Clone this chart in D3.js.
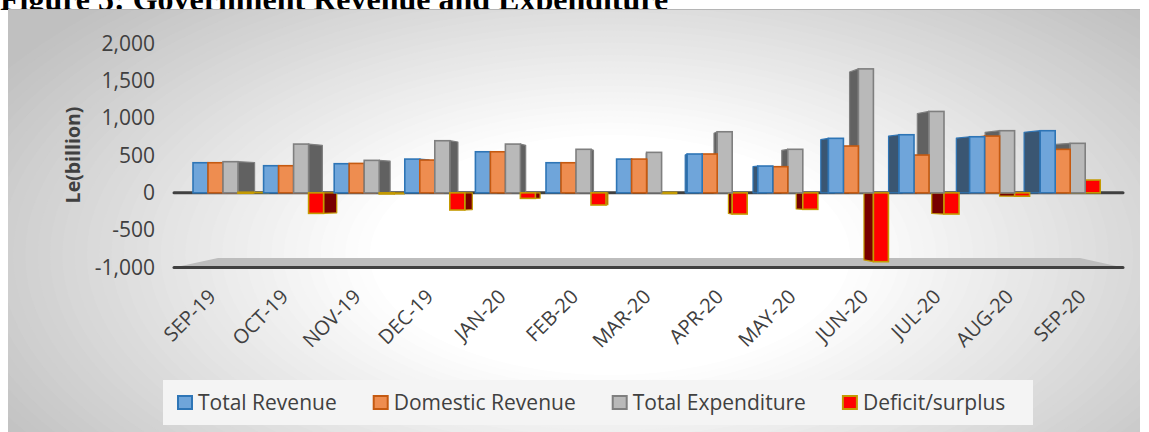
<!DOCTYPE html>
<html>
<head>
<meta charset="utf-8">
<script src="https://cdn.jsdelivr.net/npm/d3@7"></script>
<style>
  html, body { margin: 0; padding: 0; background: #fff; overflow: hidden; width: 1149px; height: 432px; }
  text { font-family: 'Open Sans', sans-serif; fill: #404040; }
</style>
</head>
<body>
<div id="chart"></div>
<script>
let months = ['SEP-19', 'OCT-19', 'NOV-19', 'DEC-19', 'JAN-20', 'FEB-20', 'MAR-20',
  'APR-20', 'MAY-20', 'JUN-20', 'JUL-20', 'AUG-20', 'SEP-20']
let seriesNames = ['Total Revenue', 'Domestic Revenue', 'Total Expenditure', 'Deficit/surplus']

let totalRevenue = [403, 363, 390, 452, 550, 403, 452, 520, 359, 730, 778, 751, 832]
let domesticRevenue = [403, 363, 394, 439, 550, 403, 452, 520, 350, 627, 506, 760, 582]
let totalExpenditure = [417, 653, 435, 698, 653, 583, 542, 818, 583, 1660, 1090, 832, 663]
let deficitSurplus = [8, -275, -15, -230, -74, -163, 5, -284, -221, -922, -284, -45, 171]

let yTicks = [-1000, -500, 0, 500, 1000, 1500, 2000]

let width = 1149
let height = 432

// front, edge, side colours for each series
let colors = {
  'Total Revenue': { fill: '#6fa5da', stroke: '#2e75b6', side: '#3a5672' },
  'Domestic Revenue': { fill: '#ee8d50', stroke: '#c55a11', side: '#a04f17' },
  'Total Expenditure': { fill: '#b9b9b9', stroke: '#7f7f7f', side: '#616161' },
  'Deficit/surplus': { fill: '#ff0000', stroke: '#c49a00', side: '#780000' }
}

let values = {
  'Total Revenue': totalRevenue,
  'Domestic Revenue': domesticRevenue,
  'Total Expenditure': totalExpenditure,
  'Deficit/surplus': deficitSurplus
}

let svg = d3.select('#chart')
  .append('svg')
  .attr('width', width)
  .attr('height', height)
  .style('display', 'block')

// title, mostly hidden behind the chart frame
svg.append('text')
  .attr('x', 0)
  .attr('y', 10)
  .style('font-family', "'Liberation Serif', 'Times New Roman', serif")
  .style('font-weight', 'bold')
  .style('font-size', '32px')
  .style('fill', '#000')
  .text('Figure 5: Government Revenue and Expenditure')

// frame background: white centre fading to grey, made of flat rings
svg.append('clipPath')
  .attr('id', 'frameClip')
  .append('rect')
  .attr('x', 8).attr('y', 9)
  .attr('width', 1132).attr('height', 423)

let bgG = svg.append('g').attr('clip-path', 'url(#frameClip)')
bgG.append('rect')
  .attr('x', 8).attr('y', 9)
  .attr('width', 1132).attr('height', 423)
  .attr('fill', '#c0c0c0')

let rings = d3.range(40)
let ringR = d3.scaleLinear().domain([0, 39]).range([720, 240])
let ringC = d3.scaleLinear().domain([0, 39]).range(['#c0c0c0', '#ffffff'])
bgG.selectAll('ellipse')
  .data(rings)
  .enter()
  .append('ellipse')
  .attr('cx', 610)
  .attr('cy', 255)
  .attr('rx', d => ringR(d))
  .attr('ry', d => ringR(d) * 0.5)
  .attr('fill', d => ringC(d))

svg.append('line')
  .attr('x1', 8).attr('x2', 1140)
  .attr('y1', 9.5).attr('y2', 9.5)
  .attr('stroke', '#b5b5b5')

let y = d3.scaleLinear().domain([-1000, 2000]).range([267.5, 43.5])

// bars sit a little further back than the labels, so they use a narrower band
let x = d3.scaleBand().domain(months).range([186, 186 + 13 * 70.6])
let x1 = d3.scaleBand().domain(seriesNames).range([7, 67])
let xLab = d3.scaleBand().domain(months).range([185.75, 1128.25])

// y axis
let yAxis = d3.axisLeft(y)
  .tickValues(yTicks)
  .tickSize(0)
  .tickPadding(8)
  .tickFormat(d => d3.format(',')(d).replace('−', '-'))

let yg = svg.append('g')
  .attr('transform', 'translate(163,0)')
  .call(yAxis)
yg.select('.domain').remove()
yg.selectAll('text')
  .style('font-size', '21px')
  .style('font-family', "'Open Sans', sans-serif")
  .attr('fill', '#404040')

svg.append('text')
  .attr('transform', 'translate(73,155) rotate(-90)')
  .attr('text-anchor', 'middle')
  .attr('dy', '0.35em')
  .style('font-weight', 'bold')
  .style('font-size', '19.5px')
  .text('Le(billion)')

// floor at -1000
let yFloor = y(-1000)
svg.append('polygon')
  .attr('points', [[174, yFloor], [1123, yFloor], [1080, yFloor - 9.5], [218, yFloor - 9.5]].join(' '))
  .attr('fill', '#bdbdbd')
svg.append('line')
  .attr('x1', 174).attr('x2', 1123)
  .attr('y1', yFloor).attr('y2', yFloor)
  .attr('stroke', '#404040')
  .attr('stroke-width', 3)
  .attr('stroke-linecap', 'round')

// zero line
svg.append('line')
  .attr('x1', 174).attr('x2', 1123)
  .attr('y1', y(0)).attr('y2', y(0))
  .attr('stroke', '#404040')
  .attr('stroke-width', 3)
  .attr('stroke-linecap', 'round')

// bars with a perspective side face
let vx = 645
let kx = 0.04
let ky = 0.025
let y0 = y(0)

let bars = []
months.forEach((m, i) => {
  seriesNames.forEach(s => {
    let v = values[s][i]
    let x0 = x(m) + x1(s)
    let w = x1.bandwidth()
    bars.push({ month: m, series: s, value: v, x0: x0, w: w, cx: x0 + w / 2 })
  })
})
bars.sort((a, b) => Math.abs(b.cx - vx) - Math.abs(a.cx - vx))

let barG = svg.append('g')
bars.forEach(d => {
  let c = colors[d.series]
  let yTop = y(Math.max(d.value, 0))
  let yBase = y(Math.min(d.value, 0))
  let dx = -kx * (d.cx - vx)
  let yTopB = yTop + ky * (y0 - yTop)
  let yBaseB = yBase + ky * (y0 - yBase)
  let ex = dx > 0 ? d.x0 + d.w : d.x0

  let g = barG.append('g')
  g.append('polygon')
    .attr('points', [[ex, yTop], [ex + dx, yTopB], [ex + dx, yBaseB], [ex, yBase]].join(' '))
    .attr('fill', c.side)
    .attr('stroke', c.stroke)
    .attr('stroke-width', 1.2)
    .attr('stroke-linejoin', 'round')
  g.append('rect')
    .attr('x', d.x0)
    .attr('y', yTop)
    .attr('width', d.w)
    .attr('height', Math.max(yBase - yTop, 1))
    .attr('fill', c.fill)
    .attr('stroke', c.stroke)
    .attr('stroke-width', 1.6)
})

// x labels
svg.append('g')
  .selectAll('text')
  .data(months)
  .enter()
  .append('text')
  .attr('transform', d => `translate(${xLab(d) + xLab.bandwidth() / 2 - 5},298) rotate(-45)`)
  .attr('text-anchor', 'end')
  .style('font-size', '20px')
  .text(d => d)

// legend
svg.append('rect')
  .attr('x', 163)
  .attr('y', 380)
  .attr('width', 870)
  .attr('height', 45)
  .attr('fill', '#f4f4f4')

let legend = svg.append('g')
let lx = 178
seriesNames.forEach(s => {
  let c = colors[s]
  legend.append('rect')
    .attr('x', lx)
    .attr('y', 396)
    .attr('width', 14)
    .attr('height', 13)
    .attr('fill', c.fill)
    .attr('stroke', c.stroke)
    .attr('stroke-width', 2)
  let t = legend.append('text')
    .attr('x', lx + 20)
    .attr('y', 410)
    .style('font-size', '21px')
    .text(s)
  lx = lx + 20 + t.node().getComputedTextLength() + 37
})
</script>
</body>
</html>
